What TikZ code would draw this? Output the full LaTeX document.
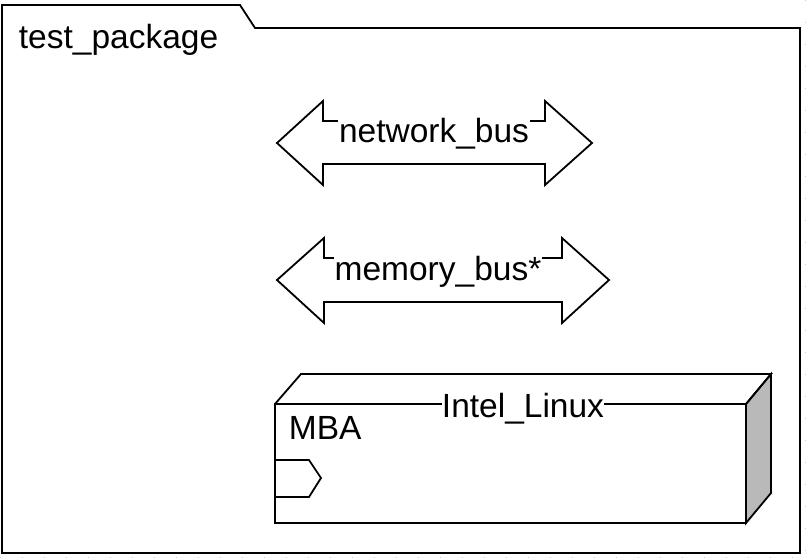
\documentclass[tikz,border=0pt]{standalone}
\usepackage{fontspec}
\setmainfont{Liberation Sans}
\begin{document}
\begin{tikzpicture}[x=1pt,y=-1pt,line width=1.8pt,line join=miter,
  lbl/.style={inner sep=1pt,font=\fontsize{33.5}{35}\selectfont},
  grid/.style={line width=1pt,gray!40,dash pattern=on 1pt off 21pt}]
\useasboundingbox (0,0) rectangle (808,559);
\draw[grid] (805,0) -- (805,559);
\draw[grid] (0,557) -- (808,557);
% package
\draw (2,28) -- (2,5) -- (240,5) -- (255,28) -- (800,28) -- (800,553) -- (2,553) -- cycle;
\node[lbl,anchor=west] (pkg) at (17,40) {test\_package};
% network bus
\draw (277,143) -- (323,101) -- (323,121) -- (545,121) -- (545,101) -- (592,143) -- (545,185) -- (545,164) -- (323,164) -- (323,185) -- cycle;
\node[lbl,fill=white] (nb) at (434,134) {network\_bus};
% memory bus
\draw (277,280) -- (324,238) -- (324,258) -- (562,258) -- (562,238) -- (609,280) -- (562,323) -- (562,302) -- (324,302) -- (324,323) -- cycle;
\node[lbl,fill=white] (mb) at (438,272) {memory\_bus*};
% node
\draw[fill=gray!55] (746,404) -- (771,374) -- (771,493) -- (746,523) -- cycle;
\draw (275,404) -- (301,374) -- (771,374) -- (746,404);
\draw (275,404) rectangle (746,523);
\node[lbl,fill=white,inner sep=0pt] (il) at (523,409) {Intel\_Linux};
\node[lbl,anchor=west] (mba) at (287,428) {MBA};
\draw (275,460) -- (309,460) -- (321,478) -- (309,497) -- (275,497);
\end{tikzpicture}
\end{document}
